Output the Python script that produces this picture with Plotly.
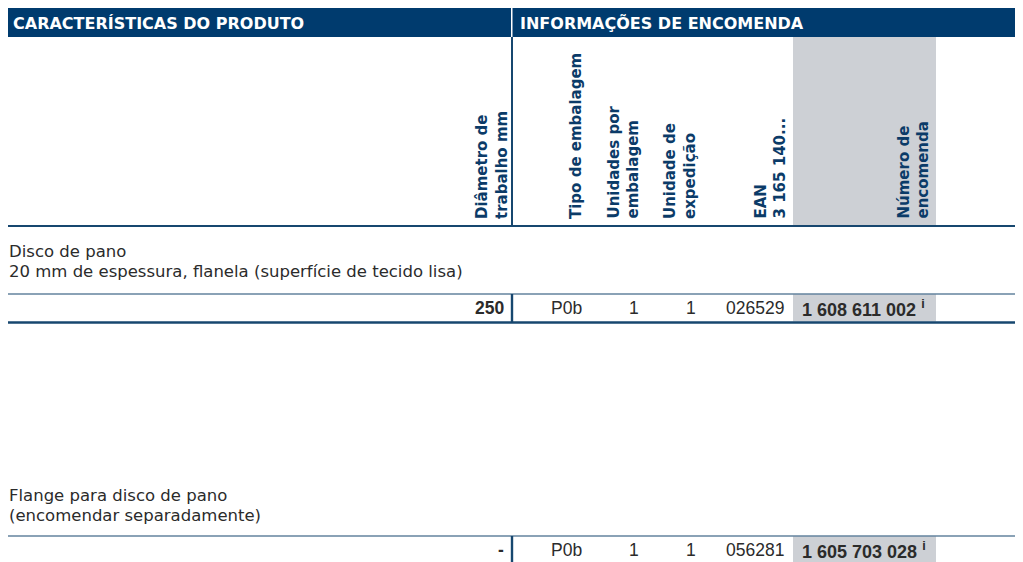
import plotly.graph_objects as go

# ---------------- data ----------------
group_titles = ["CARACTERÍSTICAS DO PRODUTO", "INFORMAÇÕES DE ENCOMENDA"]
column_headers = [
    "Diâmetro de<br>trabalho mm",
    "Tipo de embalagem",
    "Unidades por<br>embalagem",
    "Unidade de<br>expedição",
    "EAN<br>3 165 140...",
    "Número de<br>encomenda",
]
section_titles = ["Disco de pano", "Flange para disco de pano"]
section_subtitles = ["20 mm de espessura, flanela (superfície de tecido lisa)",
                     "(encomendar separadamente)"]
diameter = ["250", "-"]
pack_type = ["P0b", "P0b"]
units_per_pack = [1, 1]
shipping_unit = [1, 1]
ean = ["026529", "056281"]
order_number = ["1 608 611 002", "1 605 703 028"]

# ---------------- style / layout ----------------
W, H = 1023, 562
PAGE_OFF = 8              # default page margin of the html body
FIG_W, FIG_H = W - PAGE_OFF, H - PAGE_OFF
NAVY = "#003B6E"
LINE = "#17476F"
GRAY = "#CDD0D5"
TXT = "#2B2B2B"
HDR_TXT = "#0B3B68"

LEFT = 6
DIV_X = 512
GRAY_X0, GRAY_X1 = 793, 936
BAR_Y0, BAR_Y1 = 8, 37
HDR_BOTTOM = 226
header_x = [492, 576, 623, 680, 770, 913]
header_bottom_y = 221

section_title_y = [251, 495]
sub_offset = 20.5
row_line_y = [294, 536]
row_h = 28.5

fig = go.Figure()
shapes = []
ann = []

# header bar
shapes.append(dict(type="rect", x0=LEFT, x1=W + 5, y0=BAR_Y0, y1=BAR_Y1,
                   fillcolor=NAVY, line_width=0, layer="below"))
shapes.append(dict(type="rect", x0=DIV_X - 1, x1=DIV_X + 0.5, y0=BAR_Y0, y1=BAR_Y1,
                   fillcolor="white", line_width=0))
ann.append(dict(x=11, y=(BAR_Y0 + BAR_Y1) / 2 + 0.5, text="<b>%s</b>" % group_titles[0],
                xanchor="left", yanchor="middle",
                font=dict(family="DejaVu Sans", size=16, color="white")))
ann.append(dict(x=518, y=(BAR_Y0 + BAR_Y1) / 2 + 0.5, text="<b>%s</b>" % group_titles[1],
                xanchor="left", yanchor="middle",
                font=dict(family="DejaVu Sans", size=16, color="white")))

# column header area
shapes.append(dict(type="rect", x0=GRAY_X0, x1=GRAY_X1, y0=BAR_Y1, y1=HDR_BOTTOM,
                   fillcolor=GRAY, line_width=0, layer="below"))
shapes.append(dict(type="rect", x0=DIV_X - 1, x1=DIV_X + 1, y0=BAR_Y1, y1=HDR_BOTTOM,
                   fillcolor=LINE, line_width=0))
shapes.append(dict(type="rect", x0=LEFT, x1=W + 5, y0=HDR_BOTTOM - 1, y1=HDR_BOTTOM + 1,
                   fillcolor=LINE, line_width=0))
for hx, ht in zip(header_x, column_headers):
    ann.append(dict(x=hx, y=header_bottom_y, text="<b>%s</b>" % ht, textangle=-90,
                    xanchor="center", yanchor="bottom", align="left",
                    font=dict(family="DejaVu Sans", size=15, color=HDR_TXT)))

# sections
val_font = dict(family="Liberation Sans", size=17.5, color=TXT)
ord_font = dict(family="Liberation Sans", size=18, color=TXT)
body_font = dict(family="DejaVu Sans", size=16.5, color=TXT)
for i in range(len(section_titles)):
    ty = section_title_y[i]
    ann.append(dict(x=PAGE_OFF, y=ty, text=section_titles[i], borderpad=0,
                    xanchor="left", yanchor="middle", font=body_font))
    ann.append(dict(x=PAGE_OFF, y=ty + sub_offset, borderpad=0,
                    text=section_subtitles[i], xanchor="left", yanchor="middle",
                    font=body_font))
    ry0 = row_line_y[i]
    ry1 = ry0 + row_h
    cy = (ry0 + ry1) / 2
    shapes.append(dict(type="rect", x0=GRAY_X0, x1=GRAY_X1, y0=ry0 + 0.5, y1=ry1 - 1,
                       fillcolor=GRAY, line_width=0, layer="below"))
    shapes.append(dict(type="line", x0=LEFT, x1=W + 5, y0=ry0, y1=ry0,
                       line=dict(color=LINE, width=1.2)))
    shapes.append(dict(type="rect", x0=LEFT, x1=W + 5, y0=ry1 - 1.2, y1=ry1 + 1.2,
                       fillcolor=LINE, line_width=0))
    shapes.append(dict(type="rect", x0=DIV_X - 1.2, x1=DIV_X + 1.2, y0=ry0, y1=ry1,
                       fillcolor=LINE, line_width=0))
    ann.append(dict(x=506, y=cy, text="<b>%s</b>" % diameter[i], xanchor="right",
                    yanchor="middle", font=val_font))
    ann.append(dict(x=566.5, y=cy, text=pack_type[i], xanchor="center",
                    yanchor="middle", font=val_font))
    ann.append(dict(x=634, y=cy, text=str(units_per_pack[i]), xanchor="center",
                    yanchor="middle", font=val_font))
    ann.append(dict(x=691, y=cy, text=str(shipping_unit[i]), xanchor="center",
                    yanchor="middle", font=val_font))
    ann.append(dict(x=786, y=cy, text=ean[i], xanchor="right",
                    yanchor="middle", font=val_font))
    ann.append(dict(x=800, y=cy, text="<b>%s <sup>i</sup></b>" % order_number[i],
                    xanchor="left", yanchor="middle", font=ord_font))

for a in ann:
    a.update(xref="x", yref="y", showarrow=False)
for s in shapes:
    s.update(xref="x", yref="y")

fig.update_layout(
    width=FIG_W, height=FIG_H,
    margin=dict(l=0, r=0, t=0, b=0),
    paper_bgcolor="white", plot_bgcolor="white",
    xaxis=dict(range=[PAGE_OFF, PAGE_OFF + FIG_W], visible=False, fixedrange=True),
    yaxis=dict(range=[PAGE_OFF + FIG_H, PAGE_OFF], visible=False, fixedrange=True),
    shapes=shapes, annotations=ann, showlegend=False,
)
fig.write_html("out.html")
